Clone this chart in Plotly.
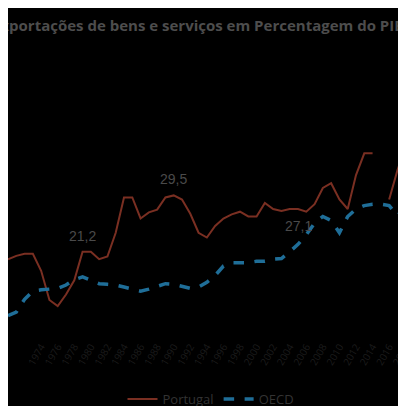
import plotly.graph_objects as go

years = list(range(1970, 2020))
portugal = [20.1, 20.6, 20.9, 20.9, 18.4, 14.1, 13.2, 14.9, 17.0, 21.2,
            21.2, 20.1, 20.5, 24.0, 29.2, 29.2, 26.1, 27.0, 27.4, 29.2,
            29.5, 28.9, 26.8, 24.0, 23.3, 25.0, 26.1, 26.7, 27.1, 26.4,
            26.4, 28.4, 27.5, 27.2, 27.5, 27.5, 27.1, 28.2, 30.6, 31.3,
            28.9, 27.5, 32.5, 35.7, 35.7, None, 28.9, 33.2, 36.7, 39.5]
oecd = [11.8, 12.3, 14.2, 15.4, 15.6, 15.7, 15.8, 16.3, 17.1, 17.5,
        17.0, 16.5, 16.4, 16.3, 16.0, 15.7, 15.4, 15.7, 16.1, 16.5,
        16.4, 16.1, 15.8, 16.0, 16.7, 17.7, 19.1, 19.6, 19.6, 19.6,
        19.8, 19.8, 20.1, 20.2, 21.2, 22.3, 23.7, 25.4, 26.4, 25.8,
        24.0, 26.4, 27.5, 28.0, 28.2, 28.2, 28.0, 26.5, 27.8, 28.1]
labels = [(1979, 21.2, "21,2"), (1990, 29.5, "29,5"), (2005, 27.1, "27,1")]

fig = go.Figure()
fig.add_trace(go.Scatter(x=years, y=portugal, name="Portugal", mode="lines",
                         line=dict(color="#7a2f22", width=2)))
fig.add_trace(go.Scatter(x=years, y=oecd, name="OECD", mode="lines",
                         line=dict(color="#1f6e98", width=3.5, dash="dash")))
for x, y, t in labels:
    fig.add_annotation(x=x, y=y, text=t, showarrow=False, yshift=16 if t != "27,1" else -14,
                       font=dict(color="#4a4a4a", size=14, family="Liberation Sans"))
fig.add_annotation(xref="paper", yref="paper", x=398/406, y=1 - 18/345,
                   text="<b>Exportações de bens e serviços em Percentagem do PIB</b>",
                   showarrow=False, xanchor="right", yanchor="middle",
                   font=dict(color="#4d4d4d", size=15, family="Open Sans"))
fig.update_layout(
    width=406, height=406, paper_bgcolor="#000", plot_bgcolor="#000",
    margin=dict(l=0, r=0, t=0, b=61), showlegend=True,
    legend=dict(orientation="h", x=0.5, xanchor="center", y=-0.14, yanchor="top",
                font=dict(color="#333", size=13), bgcolor="rgba(0,0,0,0)"),
    xaxis=dict(range=[1970, 2019], showgrid=False, zeroline=False, tickmode="linear",
               tick0=1970, dtick=2, automargin=False,
               tickangle=-60, tickfont=dict(color="#1c1c1c", size=10)),
    yaxis=dict(range=[8.5, 57.1], visible=False, automargin=False),
)
fig.write_html("out.html")
